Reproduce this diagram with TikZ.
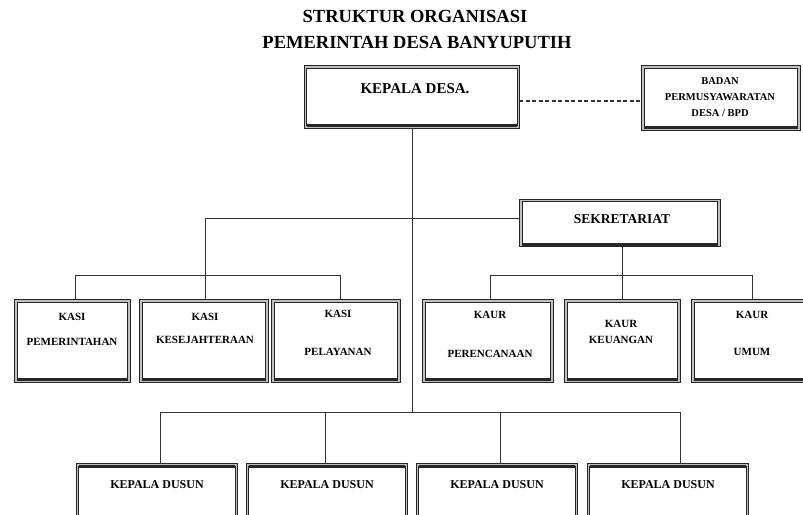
\documentclass[tikz,border=0pt]{standalone}
\usepackage{fontspec}
\setmainfont{Liberation Serif}
\begin{document}
\begin{tikzpicture}[x=1pt,y=-1pt,
  orgbox/.style={draw=black!85, double=black!25, double distance=1.2pt, line width=1.1pt, fill=white, inner sep=0pt},
  lbl/.style={font=\bfseries\fontsize{11}{13}\selectfont, inner sep=0pt, anchor=base},
  conn/.style={draw=black!80, line width=1pt},
  shadowline/.style={line width=3pt, black!85}]
\useasboundingbox (0,0) rectangle (803,514);
\clip (0,0) rectangle (803,514);
% title
\node[font=\bfseries\fontsize{18.5}{20}\selectfont, inner sep=0pt, anchor=base] (t1) at (415,23) {STRUKTUR ORGANISASI};
\node[font=\bfseries\fontsize{18.5}{20}\selectfont, inner sep=0pt, anchor=base] (t2) at (417,48) {PEMERINTAH DESA BANYUPUTIH};
% top boxes
\node[orgbox, minimum width=213pt, minimum height=60pt] (kd) at (412,97) {};
\node[lbl, font=\bfseries\fontsize{15}{17}\selectfont] (kdt) at (415,93) {KEPALA DESA.};
\node[orgbox, minimum width=156pt, minimum height=62pt] (bpd) at (721,98) {};
\node[lbl, font=\bfseries\fontsize{10.5}{16}\selectfont, align=center, anchor=center] (bpdt) at (720,97) {BADAN\\PERMUSYAWARATAN\\DESA / BPD};
\node[orgbox, minimum width=198pt, minimum height=45pt] (sek) at (620,223) {};
\node[lbl, font=\bfseries\fontsize{13.5}{15}\selectfont] (sekt) at (622,223) {SEKRETARIAT};
% row 2
\node[orgbox, minimum width=113pt, minimum height=80pt] (b1) at (72.5,341) {};
\node[orgbox, minimum width=126pt, minimum height=80pt] (b2) at (204,341) {};
\node[orgbox, minimum width=126pt, minimum height=80pt] (b3) at (336,341) {};
\node[orgbox, minimum width=128pt, minimum height=80pt] (b4) at (488,341) {};
\node[orgbox, minimum width=113pt, minimum height=80pt] (b5) at (622.5,341) {};
\node[orgbox, minimum width=122pt, minimum height=80pt] (b6) at (754,341) {};
\foreach \b in {b1,b2,b3,b4,b5,b6} {
  \draw[shadowline] ([xshift=2pt,yshift=2pt]\b.south west) -- ([xshift=-2pt,yshift=2pt]\b.south east);
}
\node[lbl] (b1a) at (72,320) {KASI};
\node[lbl] (b1b) at (72,345) {PEMERINTAHAN};
\node[lbl] (b2a) at (205,320) {KASI};
\node[lbl] (b2b) at (205,343) {KESEJAHTERAAN};
\node[lbl] (b3a) at (338,317) {KASI};
\node[lbl] (b3b) at (338,355) {PELAYANAN};
\node[lbl] (b4a) at (490,318) {KAUR};
\node[lbl] (b4b) at (490,357) {PERENCANAAN};
\node[lbl] (b5a) at (621,327) {KAUR};
\node[lbl] (b5b) at (621,343) {KEUANGAN};
\node[lbl] (b6a) at (752,318) {KAUR};
\node[lbl] (b6b) at (752,355) {UMUM};
% bottom row
\node[orgbox, minimum width=159pt, minimum height=70pt] (c1) at (157,500) {};
\node[orgbox, minimum width=159pt, minimum height=70pt] (c2) at (327,500) {};
\node[orgbox, minimum width=159pt, minimum height=70pt] (c3) at (497,500) {};
\node[orgbox, minimum width=159pt, minimum height=70pt] (c4) at (668,500) {};
\foreach \c in {c1,c2,c3,c4} {
  \draw[shadowline] ([xshift=2pt,yshift=-2pt]\c.north west) -- ([xshift=-2pt,yshift=-2pt]\c.north east);
}
\node[lbl, font=\bfseries\fontsize{12}{14}\selectfont] (c1t) at (157,488) {KEPALA DUSUN};
\node[lbl, font=\bfseries\fontsize{12}{14}\selectfont] (c2t) at (327,488) {KEPALA DUSUN};
\node[lbl, font=\bfseries\fontsize{12}{14}\selectfont] (c3t) at (497,488) {KEPALA DUSUN};
\node[lbl, font=\bfseries\fontsize{12}{14}\selectfont] (c4t) at (668,488) {KEPALA DUSUN};
% shadow lines on top boxes
\foreach \b in {kd,bpd,sek} {
  \draw[shadowline] ([xshift=2pt,yshift=2pt]\b.south west) -- ([xshift=-2pt,yshift=2pt]\b.south east);
}
% junction coordinates
\coordinate (jk) at (412,218);
\coordinate (jl) at (205,218);
\coordinate (jl2) at (205,275);
\coordinate (hl1) at (75,275);
\coordinate (hl3) at (340,275);
\coordinate (jr) at (622,275);
\coordinate (hr1) at (490,275);
\coordinate (hr3) at (752,275);
\coordinate (jb) at (412,412);
\coordinate (hb1) at (160,412);
\coordinate (hb4) at (680,412);
\coordinate (hb2) at (325,412);
\coordinate (hb3) at (500,412);
% connectors
\draw[conn] (kd.south) -- (jb);
\draw[conn] (jl) -- (jl -| sek.west);
\draw[conn] (jl) -- (jl2);
\draw[conn] (hl1) -- (hl3);
\draw[conn] (hl1) -- (hl1 |- b1.north);
\draw[conn] (jl2) -- (jl2 |- b2.north);
\draw[conn] (hl3) -- (hl3 |- b3.north);
\draw[conn] (sek.south -| jr) -- (jr);
\draw[conn] (hr1) -- (hr3);
\draw[conn] (hr1) -- (hr1 |- b4.north);
\draw[conn] (jr) -- (jr |- b5.north);
\draw[conn] (hr3) -- (hr3 |- b6.north);
\draw[conn] (hb1) -- (hb4);
\draw[conn] (hb1) -- (hb1 |- c1.north);
\draw[conn] (hb2) -- (hb2 |- c2.north);
\draw[conn] (hb3) -- (hb3 |- c3.north);
\draw[conn] (hb4) -- (hb4 |- c4.north);
\draw[draw=black!80, line width=2pt, dash pattern=on 4pt off 2.5pt] (kd.east |- 0,101) -- (bpd.west |- 0,101);
\end{tikzpicture}
\end{document}
